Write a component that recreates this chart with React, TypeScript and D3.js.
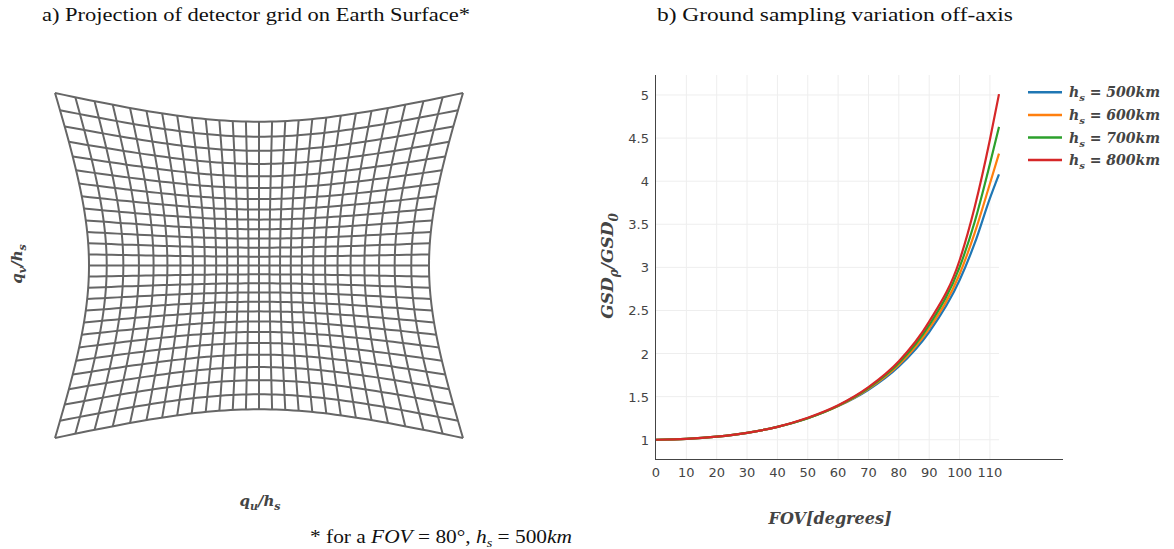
import React from 'react';
import * as d3 from 'd3';

// b) GSD ratio, one list per altitude
const fovDeg = [0, 10, 20, 30, 40, 50, 60, 70, 80, 90, 100, 105, 110, 113];
const gsd500 = [1, 1.009, 1.035, 1.08, 1.15, 1.25, 1.39, 1.58, 1.85, 2.25, 2.85, 3.28, 3.8, 4.08];
const gsd600 = [1, 1.009, 1.035, 1.08, 1.15, 1.25, 1.39, 1.59, 1.87, 2.29, 2.92, 3.4, 3.97, 4.32];
const gsd700 = [1, 1.009, 1.035, 1.08, 1.15, 1.25, 1.395, 1.6, 1.89, 2.33, 3.0, 3.53, 4.2, 4.63];
const gsd800 = [1, 1.009, 1.035, 1.08, 1.15, 1.255, 1.4, 1.61, 1.91, 2.37, 3.08, 3.7, 4.48, 5.01];
const altitudes = ['500', '600', '700', '800'];
const seriesColors = ['#1f77b4', '#ff7f0e', '#2ca02c', '#d62728'];
const xTicks = [0, 10, 20, 30, 40, 50, 60, 70, 80, 90, 100, 110];
const yTicks = [1, 1.5, 2, 2.5, 3, 3.5, 4, 4.5, 5];

// a) detector grid: cells per side and radial stretch of the projection
const detectorCells = 26;
const pincushion = 0.25;

const W = 1174;
const H = 549;

function project(s: number, t: number): [number, number] {
  const f = 1 + pincushion * (s * s + t * t);
  return [s * f, t * f];
}

function GridPanel() {
  const qx = d3.scaleLinear().domain([-1.5, 1.5]).range([55, 463]);
  const qy = d3.scaleLinear().domain([-1.5, 1.5]).range([438, 93]);
  const steps = d3.range(detectorCells + 1).map((i) => -1 + (2 * i) / detectorCells);
  const fine = d3.range(61).map((i) => -1 + (2 * i) / 60);
  const line = d3
    .line<[number, number]>()
    .x((d) => qx(d[0]))
    .y((d) => qy(d[1]));
  const paths: string[] = [];
  steps.forEach((s) => {
    paths.push(line(fine.map((t) => project(s, t))) as string);
    paths.push(line(fine.map((t) => project(t, s))) as string);
  });
  return (
    <g>
      {paths.map((p, i) => (
        <path key={i} d={p} fill="none" stroke="#666" strokeWidth={2} strokeLinejoin="round" />
      ))}
    </g>
  );
}

const bi = { fontFamily: 'DejaVu Serif', fontWeight: 'bold' as const, fontStyle: 'italic' as const, fill: '#444' };

function GsdPanel() {
  const x = d3.scaleLinear().domain([0, 113]).range([656, 999]);
  const y = d3.scaleLinear().domain([0.773, 5.232]).range([459.3, 75]);
  const all = [gsd500, gsd600, gsd700, gsd800];
  const line = d3
    .line<number>()
    .x((_, i) => x(fovDeg[i]))
    .y((d) => y(d))
    .curve(d3.curveMonotoneX);
  const tickFont = { fontFamily: 'DejaVu Sans', fontSize: 13, fill: '#444' };
  return (
    <g>
      {xTicks.slice(1).map((t) => (
        <line key={'gx' + t} x1={x(t)} x2={x(t)} y1={75} y2={459} stroke="#eee" />
      ))}
      {yTicks.map((t) => (
        <line key={'gy' + t} x1={656} x2={999} y1={y(t)} y2={y(t)} stroke="#eee" />
      ))}
      {all.map((vals, i) => (
        <path key={i} d={line(vals) as string} fill="none" stroke={seriesColors[i]} strokeWidth={2.2} />
      ))}
      <line x1={655.5} x2={655.5} y1={75} y2={460} stroke="#444" />
      <line x1={655} x2={1063} y1={459.5} y2={459.5} stroke="#444" />
      {xTicks.map((t) => (
        <text key={'tx' + t} x={x(t)} y={477} textAnchor="middle" {...tickFont}>
          {t}
        </text>
      ))}
      {yTicks.map((t) => (
        <text key={'ty' + t} x={649} y={y(t) + 5} textAnchor="end" {...tickFont}>
          {String(t)}
        </text>
      ))}
      {altitudes.map((a, i) => {
        const ly = 92.3 + i * 22.6;
        return (
          <g key={a}>
            <line x1={1028} x2={1062} y1={ly} y2={ly} stroke={seriesColors[i]} strokeWidth={2.5} />
            <text x={1069} y={ly + 5} fontSize={14} {...bi}>
              h<tspan dy={4} fontSize={10}>s</tspan>
              <tspan dy={-4}> = {a}km</tspan>
            </text>
          </g>
        );
      })}
    </g>
  );
}

export default function App() {
  const serif = 'Liberation Serif';
  return (
    <svg
      width={W}
      height={H}
      viewBox={`0 0 ${W} ${H}`}
      style={{ position: 'absolute', left: 0, top: 0, background: '#fff' }}
    >
      <rect width={W} height={H} fill="#fff" />
      <text x={42} y={21} fontFamily={serif} fontSize={19} fill="#111" textLength={428} lengthAdjust="spacingAndGlyphs">
        a) Projection of detector grid on Earth Surface*
      </text>
      <text x={657} y={21} fontFamily={serif} fontSize={19} fill="#111" textLength={356} lengthAdjust="spacingAndGlyphs">
        b) Ground sampling variation off-axis
      </text>
      <GridPanel />
      <GsdPanel />
      <text transform="translate(22,264) rotate(-90)" textAnchor="middle" fontSize={15} {...bi}>
        q<tspan dy={4} fontSize={11}>v</tspan>
        <tspan dy={-4}>/h</tspan>
        <tspan dy={4} fontSize={11}>s</tspan>
      </text>
      <text x={260} y={506} textAnchor="middle" fontSize={15} {...bi}>
        q<tspan dy={4} fontSize={11}>u</tspan>
        <tspan dy={-4}>/h</tspan>
        <tspan dy={4} fontSize={11}>s</tspan>
      </text>
      <text transform="translate(613,266) rotate(-90)" textAnchor="middle" fontSize={17} {...bi}>
        GSD<tspan dy={5} fontSize={12}>ρ</tspan>
        <tspan dy={-5}>/GSD</tspan>
        <tspan dy={5} fontSize={12}>0</tspan>
      </text>
      <text x={830} y={524} textAnchor="middle" fontSize={16} {...bi}>
        FOV[degrees]
      </text>
      <text x={310} y={543} fontFamily={serif} fontSize={18} fill="#111" textLength={262} lengthAdjust="spacingAndGlyphs">
        * for a <tspan fontStyle="italic">FOV</tspan> = 80°, <tspan fontStyle="italic">h</tspan>
        <tspan dy={4} fontSize={12} fontStyle="italic">s</tspan>
        <tspan dy={-4}> = 500</tspan>
        <tspan fontStyle="italic">km</tspan>
      </text>
    </svg>
  );
}
